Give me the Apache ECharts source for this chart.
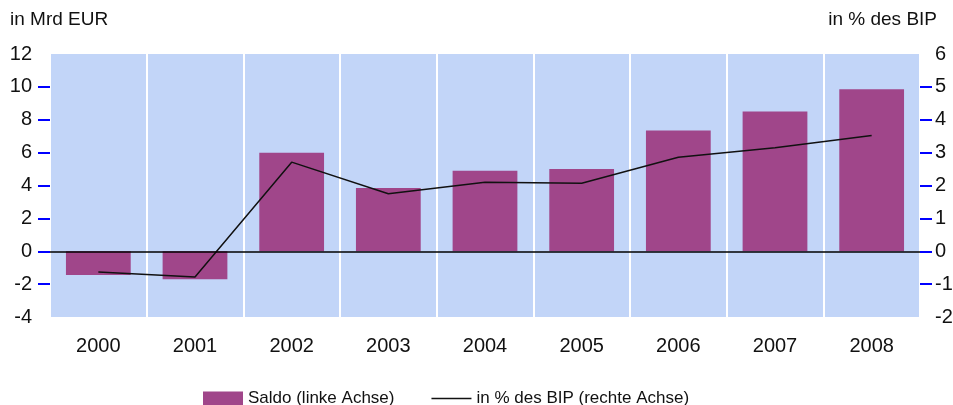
<!DOCTYPE html>
<html><head><meta charset="utf-8">
<script src="https://cdn.jsdelivr.net/npm/echarts@6/dist/echarts.min.js"></script>
<style>html,body{margin:0;padding:0;background:#fff}#c{width:953px;height:405px}</style>
</head><body><div id="c"></div>
<script>
var categories = ['2000','2001','2002','2003','2004','2005','2006','2007','2008'];
var saldo = [-1.45, -1.7, 6.0, 3.85, 4.9, 5.0, 7.35, 8.5, 9.85];
var bipPct = [-0.63, -0.78, 2.71, 1.75, 2.1, 2.07, 2.86, 3.15, 3.52];
var leftTicks = [-2, 0, 2, 4, 6, 8, 10];
var rightTicks = [-1, 0, 1, 2, 3, 4, 5];
var font = 'Liberation Sans, Arial, sans-serif';
var chart = echarts.init(document.getElementById('c'));
chart.setOption({
  animation: false,
  textStyle: {fontFamily: font, color: '#111'},
  grid: {left: 50, right: 33, top: 54, bottom: 88, show: true, backgroundColor: '#c2d5f8', borderWidth: 0,
         containLabel: false, outerBoundsMode: 'none'},
  legend: {
    left: 198, top: 385, itemWidth: 40, itemHeight: 14, itemGap: 37,
    textStyle: {fontFamily: font, fontSize: 17, color: '#111'},
    data: [
      {name: 'Saldo (linke Achse)', icon: 'rect'},
      {name: 'in % des BIP (rechte Achse)', icon: 'path://M0,0L40,0L40,1.6L0,1.6Z', itemStyle: {color: '#111'}}
    ]
  },
  graphic: [
    {type: 'text', left: 10, top: 10, style: {text: 'in Mrd EUR', font: '19px ' + font, fill: '#111'}},
    {type: 'text', right: 16, top: 10, style: {text: 'in % des BIP', font: '19px ' + font, fill: '#111'}}
  ],
  xAxis: {
    type: 'category', data: categories, boundaryGap: true,
    axisLine: {show: false}, axisTick: {show: false},
    axisLabel: {fontSize: 20, color: '#111', margin: 19, fontFamily: font},
    splitLine: {show: true, interval: 0, lineStyle: {color: '#ffffff', width: 2}}
  },
  yAxis: [
    {type: 'value', min: -4, max: 12, interval: 2,
     axisLine: {show: false}, splitLine: {show: false},
     axisTick: {show: true, customValues: leftTicks, length: 12, lineStyle: {color: '#0000ff', width: 2}},
     axisLabel: {fontSize: 20, color: '#111', margin: 18, fontFamily: font}},
    {type: 'value', min: -2, max: 6, interval: 1, position: 'right',
     axisLine: {show: false}, splitLine: {show: false},
     axisTick: {show: true, customValues: rightTicks, length: 12, lineStyle: {color: '#0000ff', width: 2}},
     axisLabel: {fontSize: 20, color: '#111', margin: 15, fontFamily: font}}
  ],
  series: [
    {name: 'Saldo (linke Achse)', type: 'bar', data: saldo, yAxisIndex: 0, barWidth: '67%',
     itemStyle: {color: '#a0468a'},
     markLine: {silent: true, symbol: 'none', label: {show: false},
       lineStyle: {color: '#000', width: 1.5, type: 'solid'}, data: [{yAxis: 0}]}},
    {name: 'in % des BIP (rechte Achse)', type: 'line', data: bipPct, yAxisIndex: 1,
     symbol: 'none', lineStyle: {color: '#111', width: 1.5}, itemStyle: {color: '#111'}}
  ]
});
</script></body></html>
